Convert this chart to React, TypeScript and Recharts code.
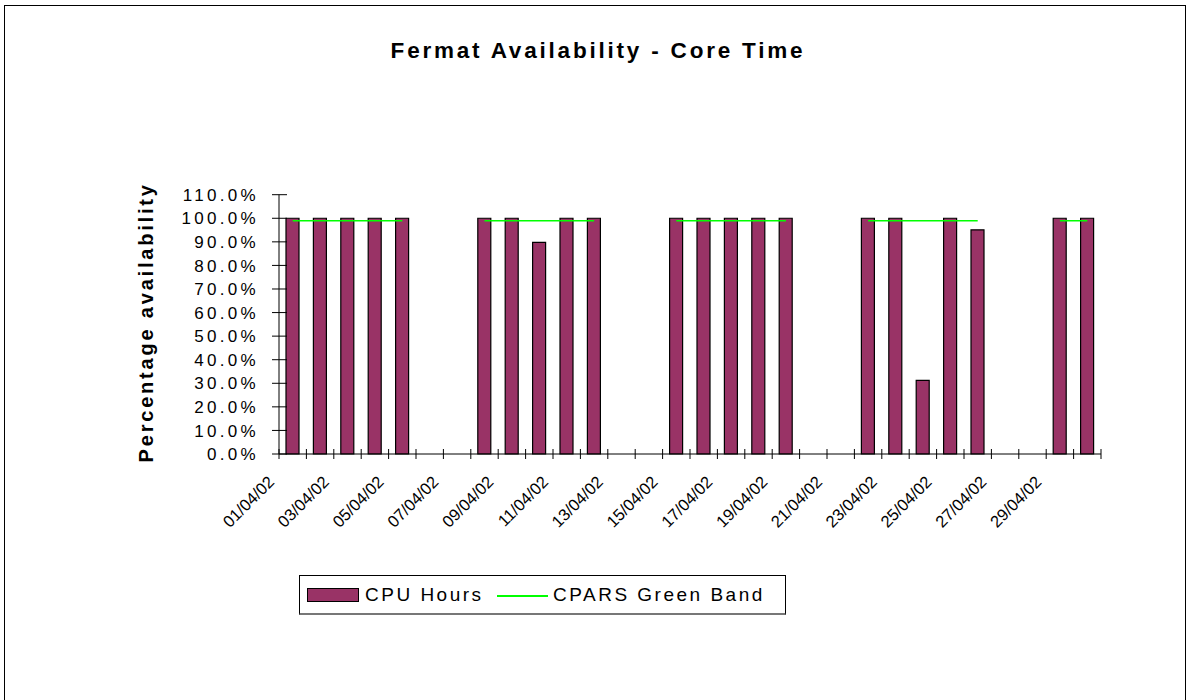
import React from 'react';
import { ComposedChart, Bar, Line, XAxis, YAxis, Label } from 'recharts';

// Daily availability, April 2002 (weekends have no data)
const DAYS = [
  '01/04/02', '02/04/02', '03/04/02', '04/04/02', '05/04/02', '06/04/02',
  '07/04/02', '08/04/02', '09/04/02', '10/04/02', '11/04/02', '12/04/02',
  '13/04/02', '14/04/02', '15/04/02', '16/04/02', '17/04/02', '18/04/02',
  '19/04/02', '20/04/02', '21/04/02', '22/04/02', '23/04/02', '24/04/02',
  '25/04/02', '26/04/02', '27/04/02', '28/04/02', '29/04/02', '30/04/02',
];
const CPU_HOURS = [
  1, 1, 1, 1, 1, null, null,
  1, 1, 0.898, 1, 1, null, null,
  1, 1, 1, 1, 1, null, null,
  1, 1, 0.312, 1, 0.951, null, null,
  1, 1,
];
const GREEN_BAND = [
  0.99, 0.99, 0.99, 0.99, 0.99, null, null,
  0.99, 0.99, 0.99, 0.99, 0.99, null, null,
  0.99, 0.99, 0.99, 0.99, 0.99, null, null,
  0.99, 0.99, 0.99, 0.99, 0.99, null, null,
  0.99, 0.99,
];
const Y_TICKS = [0, 0.1, 0.2, 0.3, 0.4, 0.5, 0.6, 0.7, 0.8, 0.9, 1.0, 1.1];

const data = DAYS.map((date, i) => ({ date, cpu: CPU_HOURS[i], band: GREEN_BAND[i] }));

const FONT = '"Liberation Sans", Arial, sans-serif';
const W = 1187;
const H = 700;
const LEFT = 279;
const RIGHT = 86;
const BAND = (W - LEFT - RIGHT) / DAYS.length;

const fmtPct = (v: number) => `${(v * 100).toFixed(1)}%`;

// ─── Axis ticks (Excel style "cross" marks) ──────────────────────

const XTick: React.FC<any> = ({ x, y, index, payload }) => {
  const half = BAND / 2;
  const lx = x - 17.5;
  const ly = y + 29;
  return (
    <g>
      <line x1={x - half} x2={x - half} y1={y - 5} y2={y + 5} stroke="#000" />
      {index === DAYS.length - 1 && (
        <line x1={x + half} x2={x + half} y1={y - 5} y2={y + 5} stroke="#000" />
      )}
      {index % 2 === 0 && (
        <text
          x={lx}
          y={ly}
          transform={`rotate(-45, ${lx}, ${ly})`}
          textAnchor="end"
          fontFamily={FONT}
          fontSize={16.5}
          fill="#000"
        >
          {payload.value}
        </text>
      )}
    </g>
  );
};

const YTick: React.FC<any> = ({ x, y, payload }) => (
  <g>
    <line x1={x - 7} x2={x + 8} y1={y} y2={y} stroke="#000" />
    <text
      x={x - 20}
      y={y}
      dy="0.36em"
      textAnchor="end"
      fontFamily={FONT}
      fontSize={17}
      letterSpacing={3.3}
      fill="#000"
    >
      {fmtPct(payload.value)}
    </text>
  </g>
);

const YTitle: React.FC<any> = ({ viewBox }) => {
  const cx = 153.5;
  const cy = viewBox.y + viewBox.height / 2 - 2;
  return (
    <text
      x={cx}
      y={cy}
      transform={`rotate(-90, ${cx}, ${cy})`}
      textAnchor="middle"
      fontFamily={FONT}
      fontSize={20}
      fontWeight="bold"
      letterSpacing={2.8}
      fill="#000"
    >
      Percentage availability
    </text>
  );
};

// ─── Legend ──────────────────────────────────────────────────────

const ChartLegend: React.FC = () => (
  <div
    style={{
      position: 'absolute',
      left: 299,
      top: 575,
      width: 485,
      height: 37,
      border: '1px solid #000',
      borderBottom: '2px solid #777',
      background: '#fff',
      fontFamily: FONT,
      fontSize: 19,
      letterSpacing: 2.5,
      lineHeight: '19px',
      color: '#000',
    }}
  >
    <div
      style={{
        position: 'absolute', left: 7, top: 12, width: 50, height: 12,
        background: '#993366', border: '1px solid #000',
      }}
    />
    <span style={{ position: 'absolute', left: 65, top: 9, whiteSpace: 'nowrap' }}>CPU Hours</span>
    <div
      style={{ position: 'absolute', left: 197, top: 19, width: 51, height: 2, background: '#00ff00' }}
    />
    <span style={{ position: 'absolute', left: 253, top: 9, whiteSpace: 'nowrap' }}>CPARS Green Band</span>
  </div>
);

const App: React.FC = () => (
  <div
    style={{
      position: 'absolute',
      left: 0,
      top: 0,
      width: W,
      height: H,
      overflow: 'hidden',
      background: '#fff',
    }}
  >
    {/* outer chart frame */}
    <div
      style={{
        position: 'absolute',
        left: 4,
        top: 5,
        width: 1180,
        height: 720,
        border: '1px solid #000',
      }}
    />

    <div
      style={{
        position: 'absolute',
        left: 598,
        top: 40,
        transform: 'translateX(-50%)',
        fontFamily: FONT,
        fontSize: 22.5,
        fontWeight: 'bold',
        letterSpacing: 2.8,
        lineHeight: '22px',
        whiteSpace: 'nowrap',
        color: '#000',
      }}
    >
      Fermat Availability - Core Time
    </div>

    <div style={{ position: 'absolute', left: 0, top: 0 }}>
      <ComposedChart
        width={W}
        height={H}
        data={data}
        margin={{ top: 194.7, right: RIGHT, bottom: 166, left: 0 }}
      >
        <XAxis
          dataKey="date"
          interval={0}
          tickLine={false}
          tickSize={0}
          tickMargin={0}
          height={80}
          axisLine={{ stroke: '#000' }}
          tick={<XTick />}
        />
        <YAxis
          width={LEFT}
          domain={[0, 1.1]}
          ticks={Y_TICKS}
          tickLine={false}
          tickSize={0}
          tickMargin={0}
          axisLine={{ stroke: '#000' }}
          tick={<YTick />}
        >
          <Label content={<YTitle />} />
        </YAxis>
        <Bar
          dataKey="cpu"
          name="CPU Hours"
          barSize={13}
          fill="#993366"
          stroke="#000"
          strokeWidth={1.2}
          isAnimationActive={false}
        />
        <Line
          dataKey="band"
          name="CPARS Green Band"
          type="linear"
          stroke="#00ff00"
          strokeWidth={1.5}
          dot={false}
          activeDot={false}
          connectNulls={false}
          isAnimationActive={false}
        />
      </ComposedChart>
    </div>

    <ChartLegend />
  </div>
);

export default App;
